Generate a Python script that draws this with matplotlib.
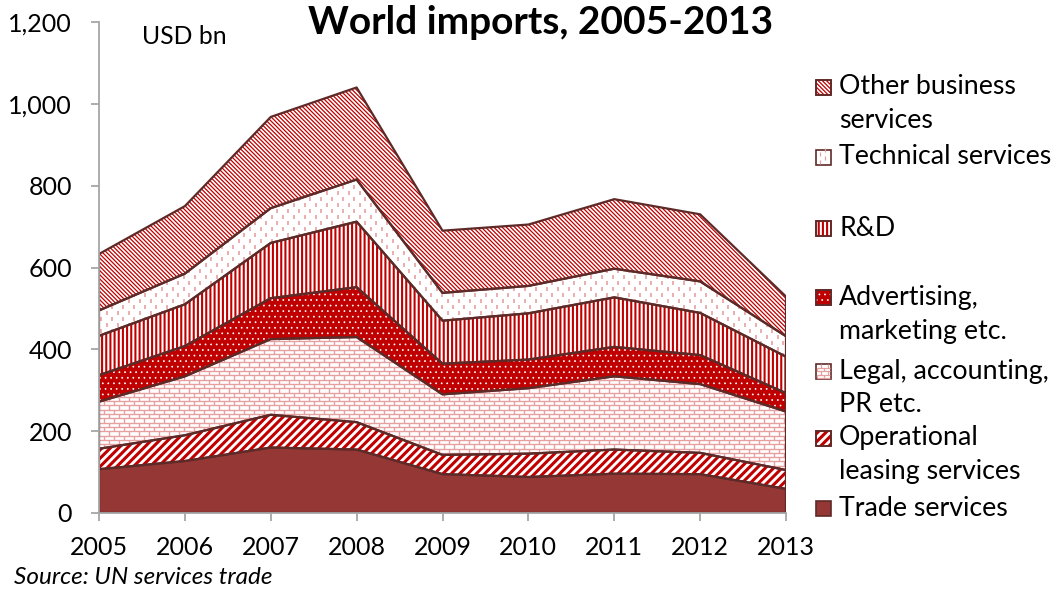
import numpy as np
import matplotlib
matplotlib.use("Agg")
import matplotlib.pyplot as plt
from matplotlib.collections import LineCollection
from matplotlib.patches import Rectangle
from matplotlib.transforms import IdentityTransform

years = [2005, 2006, 2007, 2008, 2009, 2010, 2011, 2012, 2013]
series_names = ["Trade services", "Operational leasing services", "Legal, accounting, PR etc.",
                "Advertising, marketing etc.", "R&D", "Technical services", "Other business services"]
trade = [107, 127, 160, 155, 95, 88, 96, 95, 59]
operational = [50, 63, 80, 67, 47, 57, 59, 52, 46]
legal = [115, 144, 185, 208, 148, 160, 179, 168, 143]
advertising = [65, 74, 100, 122, 75, 70, 72, 71, 45]
rnd = [96, 102, 135, 160, 105, 113, 121, 103, 89]
technical = [62, 75, 85, 103, 68, 67, 70, 77, 50]
other = [138, 165, 223, 225, 152, 150, 170, 164, 97]
yticks = [0, 200, 400, 600, 800, 1000, 1200]

W, H = 1056, 594
FONT = "Lato"
plt.rcParams['font.family'] = [FONT, 'DejaVu Sans']

fig = plt.figure(figsize=(W / 100, H / 100), dpi=100)
ax = fig.add_axes([99 / W, 1 - 513 / H, (786 - 99) / W, (513 - 22) / H])
ax.set_xlim(2005, 2013)
ax.set_ylim(0, 1200)

RED = "#C00000"
OUT = "#5E2A28"
PINK = "#E6A0A0"

data = [trade, operational, legal, advertising, rnd, technical, other]
cum = np.cumsum(np.array(data, dtype=float), axis=0)
bottoms = np.vstack([np.zeros(len(years)), cum[:-1]])

x = np.array(years)

# axis pixel box
X0, X1 = 99, 786
Y0, Y1 = H - 513, H - 22


def clip_lines(segs, coll, color, lw):
    lc = LineCollection(segs, colors=color, linewidths=lw, transform=IdentityTransform(), zorder=2)
    lc.set_clip_path(coll.get_paths()[0], ax.transData)
    ax.add_collection(lc, autolim=False)


def brick_segments(x0, x1, y0, y1, h=4.3, L=10.0):
    segs = []
    k = 0
    y = y0
    while y < y1:
        segs.append([(x0, y), (x1, y)])
        off = (k % 2) * L / 2
        xx = x0 + off
        while xx < x1:
            segs.append([(xx, y), (xx, y + h)])
            xx += L
        y += h
        k += 1
    return segs


def dash_segments(x0, x1, y0, y1, dx=5.5, period=12.0, dlen=4.5):
    segs = []
    j = 0
    xx = x0 + 2
    while xx < x1:
        off = (j % 2) * period / 2
        y = y0 + off
        while y < y1:
            segs.append([(xx, y), (xx, y + dlen)])
            y += period
        xx += dx
        j += 1
    return segs


styles = [
    dict(face="#953735", hatch=None, hc=None, hlw=1.0),
    dict(face="white", hatch="////", hc=RED, hlw=2.2),
    dict(face="white", hatch=None, hc=None, hlw=1.0, brick=True),
    dict(face=RED, hatch="...", hc="white", hlw=0.5),
    dict(face="white", hatch="||||", hc=RED, hlw=1.5),
    dict(face="white", hatch=None, hc=None, hlw=1.0, dash=True),
    dict(face="white", hatch="\\" * 8, hc=RED, hlw=0.9),
]

for i, st in enumerate(styles):
    b = bottoms[i]
    t = cum[i]
    base = ax.fill_between(x, b, t, facecolor=st["face"], edgecolor="none", linewidth=0, zorder=1)
    if st["hatch"]:
        with plt.rc_context({"hatch.linewidth": st["hlw"]}):
            hc = ax.fill_between(x, b, t, facecolor="none", edgecolor=st["hc"], linewidth=0,
                                 hatch=st["hatch"], zorder=2)
            try:
                hc.set_hatch_linewidth(st["hlw"])
            except Exception:
                pass
    if st.get("brick"):
        clip_lines(brick_segments(X0, X1, Y0, Y1), base, PINK, 1.0)
    if st.get("dash"):
        clip_lines(dash_segments(X0, X1, Y0, Y1), base, PINK, 1.2)

for i in range(len(data)):
    ax.fill_between(x, bottoms[i], cum[i], facecolor="none", edgecolor=OUT, linewidth=1.6, zorder=3)

# axes styling
AXC = "#A6A6A6"
for s in ["top", "right"]:
    ax.spines[s].set_visible(False)
for s in ["left", "bottom"]:
    ax.spines[s].set_color(AXC)
    ax.spines[s].set_linewidth(1.3)
    ax.spines[s].set_zorder(4)
ax.set_xticks(years)
ax.set_xticklabels([str(y) for y in years])
ax.set_yticks(yticks)
ax.set_yticklabels([f"{v:,}" for v in yticks])
ax.tick_params(axis="both", colors=AXC, labelcolor="black", labelsize=18, length=5.5, width=1.3,
               direction="out")
ax.tick_params(axis="y", pad=14)
ax.tick_params(axis="x", pad=11)

fig.text(142 / W, 1 - 37 / H, "USD bn", fontsize=17.8, va="center", ha="left")
fig.text(541 / W, 1 - 22 / H, "World imports, 2005-2013", fontsize=28, fontweight="bold",
         ha="center", va="center")
fig.text(14 / W, 1 - 578 / H, "Source: UN services trade", fontsize=17.5, style="italic",
         ha="left", va="center")

# legend (manual, Excel-like spacing)
leg = [
    (6, 87, ["Other business", "services"]),
    (5, 157, ["Technical services"]),
    (4, 228, ["R&D"]),
    (3, 297, ["Advertising,", "marketing etc."]),
    (2, 371, ["Legal, accounting,", "PR etc."]),
    (1, 438, ["Operational", "leasing services"]),
    (0, 508, ["Trade services"]),
]
for idx, yc, lines in leg:
    st = styles[idx]
    sx, sy, sw = 816, yc - 7, 15
    r = Rectangle((sx / W, 1 - (sy + sw) / H), sw / W, sw / H, transform=fig.transFigure,
                  facecolor=st["face"], edgecolor=OUT, linewidth=1.2)
    fig.add_artist(r)
    if st["hatch"]:
        with plt.rc_context({"hatch.linewidth": st["hlw"]}):
            r2 = Rectangle((sx / W, 1 - (sy + sw) / H), sw / W, sw / H, transform=fig.transFigure,
                           facecolor="none", edgecolor=st["hc"], linewidth=0, hatch=st["hatch"])
            try:
                r2.set_hatch_linewidth(st["hlw"])
            except Exception:
                pass
        fig.add_artist(r2)
        r3 = Rectangle((sx / W, 1 - (sy + sw) / H), sw / W, sw / H, transform=fig.transFigure,
                       facecolor="none", edgecolor=OUT, linewidth=1.2)
        fig.add_artist(r3)
    if st.get("brick") or st.get("dash"):
        segs = brick_segments(sx + 1, sx + sw - 1, H - sy - sw + 1, H - sy - 1, h=3.5, L=7) if st.get("brick") \
            else dash_segments(sx + 2, sx + sw - 2, H - sy - sw + 1, H - sy - 1, dx=5, period=8, dlen=4)
        lc = LineCollection(segs, colors=PINK, linewidths=0.9, transform=IdentityTransform())
        fig.add_artist(lc)
    for k, line in enumerate(lines):
        fig.text(839 / W, 1 - (yc + k * 34) / H, line, fontsize=19.3, ha="left", va="center")

fig.savefig("out.png", dpi=100)
